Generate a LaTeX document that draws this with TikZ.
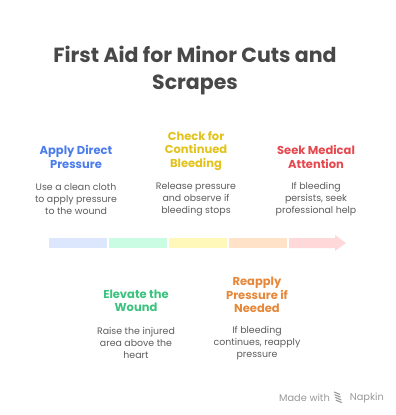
\documentclass[tikz,border=0pt]{standalone}
\usepackage{fontspec}
\setmainfont{Poppins}
\definecolor{titlegray}{HTML}{484848}
\definecolor{textgray}{HTML}{5C5C5C}
\definecolor{stepblue}{HTML}{4A7DEB}
\definecolor{stepyellow}{HTML}{E2C21C}
\definecolor{stepred}{HTML}{E5484D}
\definecolor{stepgreen}{HTML}{3CC27E}
\definecolor{steporange}{HTML}{E6873A}
\definecolor{barblue}{HTML}{DCE7FD}
\definecolor{bargreen}{HTML}{C9FCE3}
\definecolor{baryellow}{HTML}{FFF8BA}
\definecolor{barorange}{HTML}{FFE2C8}
\definecolor{barred}{HTML}{FFD9D9}
\tikzset{
  heading/.style={align=center,font=\fontsize{11.5}{13.5}\selectfont\bfseries,inner sep=0pt},
  desc/.style={align=center,text=textgray,font=\fontsize{9.4}{11.8}\selectfont,inner sep=0pt}
}
\begin{document}
\begin{tikzpicture}[x=1pt,y=-1pt]
  \useasboundingbox (0,0) rectangle (396,415);

  \node[align=center,text=titlegray,inner sep=0pt,
        font=\fontsize{20.5}{27}\selectfont\bfseries] (title) at (195,71)
        {First Aid for Minor Cuts and\\Scrapes};

  % the bar
  \fill[barblue]   (49,238) rectangle (107,248);
  \fill[bargreen]  (109,238) rectangle (167,248);
  \fill[baryellow] (169,238) rectangle (227,248);
  \fill[barorange] (229,238) rectangle (287,248);
  \fill[barred]    (289,238) -- (335,238) -- (335,235) -- (346,243)
                   -- (335,251) -- (335,248) -- (289,248) -- cycle;

  % steps above the bar
  \node[heading,text=stepblue] (apply) at (76,157) {Apply Direct\\Pressure};
  \node[desc] (applytxt) at (76,199) {Use a clean cloth\\to apply pressure\\to the wound};

  \node[heading,text=stepyellow] (check) at (196,151) {Check for\\Continued\\Bleeding};
  \node[desc] (checktxt) at (196,199) {Release pressure\\and observe if\\bleeding stops};

  \node[heading,text=stepred] (seek) at (316,157) {Seek Medical\\Attention};
  \node[desc] (seektxt) at (316,199) {If bleeding\\persists, seek\\professional help};

  % steps below the bar
  \node[heading,text=stepgreen] (elevate) at (136,301) {Elevate the\\Wound};
  \node[desc] (elevatetxt) at (136,343) {Raise the injured\\area above the\\heart};

  \node[heading,text=steporange] (reapply) at (257,295) {Reapply\\Pressure if\\Needed};
  \node[desc] (reapplytxt) at (257,343) {If bleeding\\continues, reapply\\pressure};

  % footer
  \node[anchor=east,text=black!40,inner sep=0pt,font=\fontsize{9.8}{11}\selectfont] (napkin) at (384,398) {Napkin};
  \node[anchor=east,text=black!40,inner sep=0pt,font=\fontsize{9.8}{11}\selectfont] (made) at (330,398) {Made with};
  \foreach \i in {0,1,2,3}
    \draw[black!40,line width=1.1pt] (334+0.6*\i,392+2.7*\i) -- (340+0.6*\i,394.5+2.7*\i);
\end{tikzpicture}
\end{document}
